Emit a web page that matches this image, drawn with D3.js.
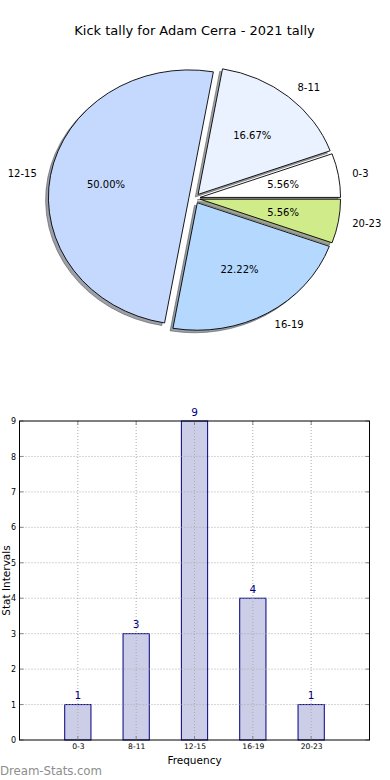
<!DOCTYPE html>
<html><head><meta charset="utf-8">
<script src="https://cdn.jsdelivr.net/npm/d3@7"></script>
<style>body{margin:0;background:#fff} svg{display:block} text{font-family:"DejaVu Sans",sans-serif}</style>
</head><body>
<script>
const title = "Kick tally for Adam Cerra - 2021 tally";
const categories = ["0-3","8-11","12-15","16-19","20-23"];
const values = [1,3,9,4,1];
const sliceColors = ["#ffffff","#ebf2ff","#c5d9ff","#b5d8ff","#d0ec8a"];
const yTicks = [0,1,2,3,4,5,6,7,8,9];
const xLabel = "Frequency";
const yLabel = "Stat Intervals";
const watermark = "Dream-Stats.com";

const W = 390, H = 780;
const svg = d3.select("body").append("svg").attr("width", W).attr("height", H);

svg.append("text").attr("x", 194.5).attr("y", 34.5).attr("text-anchor", "middle")
  .attr("font-size", 13).attr("fill", "#000").text(title);

// ---------- Pie ----------
const cx = 194.5, cy = 198.3, rx = 140.5, ry = 127.5, explode = 0.04;
const sx = rx / ry;
const total = d3.sum(values);
const pie = d3.pie().sort(null).value(d => d)
  .startAngle(Math.PI / 2).endAngle(Math.PI / 2 - 2 * Math.PI);
const arcs = pie(values);
const arc = d3.arc().innerRadius(0).outerRadius(ry);
const mid = a => (a.startAngle + a.endAngle) / 2;
const pt = (a, k, ox, oy) => [ox + k * rx * Math.sin(mid(a)), oy - k * ry * Math.cos(mid(a))];

const gShadow = svg.append("g");
const gPie = svg.append("g");
const gLab = svg.append("g");
arcs.forEach((a, i) => {
  const [ox, oy] = pt(a, explode, cx, cy);
  const c = d3.rgb(sliceColors[i]);
  const sh = d3.rgb(c.r * 0.3, c.g * 0.3, c.b * 0.3);
  gShadow.append("path").attr("d", arc(a))
    .attr("transform", `translate(${ox - 0.02 * rx},${oy + 0.02 * ry}) scale(${sx},1)`)
    .attr("fill", sh.formatRgb()).attr("fill-opacity", 0.5)
    .attr("stroke", sh.formatRgb()).attr("stroke-opacity", 0.5)
    .attr("vector-effect", "non-scaling-stroke").attr("stroke-width", 1);
  gPie.append("path").attr("d", arc(a))
    .attr("transform", `translate(${ox},${oy}) scale(${sx},1)`)
    .attr("fill", sliceColors[i]).attr("stroke", "#000").attr("stroke-width", 0.9)
    .attr("vector-effect", "non-scaling-stroke").attr("stroke-linejoin", "round");
  const [lx, ly] = pt(a, 1.1, ox, oy);
  gLab.append("text").attr("x", lx).attr("y", ly).attr("dy", "0.36em")
    .attr("text-anchor", lx > cx ? "start" : "end").attr("font-size", 10).text(categories[i]);
  const [px, py] = pt(a, 0.6, ox, oy);
  gLab.append("text").attr("x", px).attr("y", py).attr("dy", "0.36em")
    .attr("text-anchor", "middle").attr("font-size", 10)
    .text((values[i] / total * 100).toFixed(2) + "%");
});

// ---------- Bars ----------
const L = 19.5, R = 369.5, T = 421, B = 740;
const x = d3.scaleLinear().domain([0, categories.length + 1]).range([L, R]);
const y = d3.scaleLinear().domain([0, 9]).range([B, T]);
const bw = x(0.45) - x(0);
const g = svg.append("g");

g.selectAll("rect.bar").data(values).join("rect").attr("class", "bar")
  .attr("x", (d, i) => x(i + 1) - bw / 2).attr("width", bw)
  .attr("y", d => y(d)).attr("height", d => B - y(d))
  .attr("fill", "#cccde6").attr("stroke", "#00007f").attr("stroke-width", 1);

// grid
g.selectAll("line.vg").data(categories).join("line").attr("class", "vg")
  .attr("x1", (d, i) => x(i + 1)).attr("x2", (d, i) => x(i + 1)).attr("y1", T).attr("y2", B)
  .attr("stroke", "#aaa").attr("stroke-dasharray", "1,2").attr("stroke-width", 1);
g.selectAll("line.hg").data(yTicks.slice(1, -1)).join("line").attr("class", "hg")
  .attr("x1", L).attr("x2", R).attr("y1", d => y(d)).attr("y2", d => y(d))
  .attr("stroke", "#aaa").attr("stroke-dasharray", "1,2").attr("stroke-width", 1);

// axes
const yAx = d3.axisLeft(y).tickValues(yTicks).tickSize(0).tickPadding(3.5);
const ya = g.append("g").attr("transform", `translate(${L},0)`).call(yAx);
ya.select(".domain").remove();
ya.selectAll("text").attr("font-size", 8).attr("font-family", "DejaVu Sans").attr("fill", "#000");
const xAx = d3.axisBottom(x).tickValues(d3.range(1, categories.length + 1))
  .tickFormat(d => categories[d - 1]).tickSize(0).tickPadding(4);
const xa = g.append("g").attr("transform", `translate(0,${B})`).call(xAx);
xa.select(".domain").remove();
xa.selectAll("text").attr("font-size", 7.6).attr("font-family", "DejaVu Sans").attr("fill", "#000");

// inward ticks
yTicks.forEach(v => {
  g.append("line").attr("x1", L).attr("x2", L + 4).attr("y1", y(v)).attr("y2", y(v)).attr("stroke", "#888");
  g.append("line").attr("x1", R).attr("x2", R - 4).attr("y1", y(v)).attr("y2", y(v)).attr("stroke", "#888");
});
categories.forEach((c, i) => {
  g.append("line").attr("x1", x(i + 1)).attr("x2", x(i + 1)).attr("y1", B).attr("y2", B - 4).attr("stroke", "#888");
  g.append("line").attr("x1", x(i + 1)).attr("x2", x(i + 1)).attr("y1", T).attr("y2", T + 4).attr("stroke", "#888");
});

g.append("rect").attr("x", L).attr("y", T).attr("width", R - L).attr("height", B - T)
  .attr("fill", "none").attr("stroke", "#000").attr("stroke-width", 1);

g.selectAll("text.val").data(values).join("text").attr("class", "val")
  .attr("x", (d, i) => x(i + 1)).attr("y", d => y(d) - 5.5).attr("text-anchor", "middle")
  .attr("font-size", 10.5).attr("fill", "#00007f").text(d => d);

svg.append("text").attr("x", (L + R) / 2).attr("y", 764).attr("text-anchor", "middle")
  .attr("font-size", 10.5).text(xLabel);
svg.append("text").attr("transform", `translate(9.5,${(T + B) / 2}) rotate(-90)`)
  .attr("text-anchor", "middle").attr("font-size", 10.5).text(yLabel);
svg.append("text").attr("x", 0).attr("y", 774.5).attr("font-size", 11.8)
  .attr("fill", "#8e8e8e").attr("textLength", 102).text(watermark);
</script>
</body></html>
